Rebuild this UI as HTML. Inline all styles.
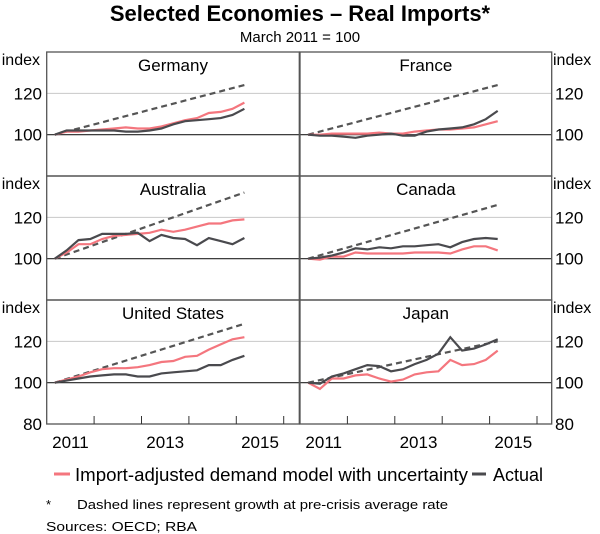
<!DOCTYPE html>
<html><head><meta charset="utf-8"><style>
body{margin:0;background:#fff;}
svg{display:block;font-family:"Liberation Sans",sans-serif;}
</style></head><body>
<svg id="c" width="600" height="534" viewBox="0 0 600 534">
<text x="300" y="21" text-anchor="middle" font-size="22" font-weight="bold" fill="#000">Selected Economies – Real Imports*</text>
<text x="300" y="42" text-anchor="middle" font-size="15" fill="#000">March 2011 = 100</text>
<g id="plots"></g>
<line x1="54" y1="474" x2="70" y2="474" stroke="#f4767e" stroke-width="3"/>
<text x="75" y="481" font-size="18" textLength="393" lengthAdjust="spacingAndGlyphs">Import-adjusted demand model with uncertainty</text>
<line x1="472" y1="474" x2="486" y2="474" stroke="#4a4a4e" stroke-width="3"/>
<text x="493" y="481" font-size="18" textLength="50" lengthAdjust="spacingAndGlyphs">Actual</text>
<text x="46" y="509" font-size="13">*</text>
<text x="77" y="509" font-size="13" textLength="371" lengthAdjust="spacingAndGlyphs">Dashed lines represent growth at pre-crisis average rate</text>
<text x="46" y="531" font-size="13" textLength="151" lengthAdjust="spacingAndGlyphs">Sources:  OECD; RBA</text>
</svg>
<script>
const countries = ["Germany","France","Australia","Canada","United States","Japan"];
const germanyModel = [100,101.5,101.5,102,102.5,103,103.5,103,103,104,105.5,107,108,110.5,111,112.5,115.5];
const germanyActual = [100,102,102,102,102,102,101.5,101.5,102,103,105,106.5,107,107.5,108,109.5,112.5];
const franceModel = [100,100,100.5,100.5,100.5,100.5,101,100.5,100.5,101.5,102,102.5,102.5,103,103.5,105,106.5];
const franceActual = [100,99.5,99.5,99,98.5,99.5,100,100.5,99.5,99.5,101.5,102.5,103,103.5,105,107.5,111.5];
const australiaModel = [100,103,107,107,109.5,111,111.5,112,112.5,114,113,114,115.5,117,117,118.5,119];
const australiaActual = [100,104,109,109.5,112,112,112,112.5,108.5,111.5,110,109.5,106.5,110,108.5,107,110];
const canadaModel = [100,99.5,101,101,103,102.5,102.5,102.5,102.5,103,103,103,102.5,104.5,106,106,104];
const canadaActual = [100,100.5,101.5,103,105,104.5,105.5,105,106,106,106.5,107,105.5,108,109.5,110,109.5];
const usModel = [100,101.5,103,105,106.5,107,107,107.5,108.5,110,110.5,112.5,113,116,118.5,121,122];
const usActual = [100,101,102,103,103.5,104,104,103,103,104.5,105,105.5,106,108.5,108.5,111,113];
const japanModel = [100,97,102,102,103.5,104,102,100.5,101.5,104,105,105.5,111,108.5,109,111,115.5];
const japanActual = [100,99.5,103,104.5,106.5,108.5,108,105.5,106.5,109,111,114,122,115.5,116.5,118.5,121];
const trendEnd = [124,124,132,126,128.5,120];
const yTicks = [80,100,120];
const xLabels = ["2011","2013","2015"];
const startYear = 2011.17, step = 0.25;

const models=[germanyModel,franceModel,australiaModel,canadaModel,usModel,japanModel];
const actuals=[germanyActual,franceActual,australiaActual,canadaActual,usActual,japanActual];
const NS="http://www.w3.org/2000/svg";
const g=document.getElementById('plots');
const rowTop=[52,176,300], rowH=124, pxU=rowH/60;
const colLeft=[46.7,300], colW=[252.6,251.7], pxY=47.4;
function mk(t,a){const e=document.createElementNS(NS,t);for(const k in a)e.setAttribute(k,a[k]);g.appendChild(e);return e;}
for(let i=0;i<6;i++){
  const r=Math.floor(i/2), c=i%2;
  const top=rowTop[r], L=colLeft[c];
  const y=v=>top+(140-v)*pxU;
  const x=t=>L+(t-2011)*pxY;
  const slug=countries[i].toLowerCase().replace(/ /g,'-');
  let e=mk('line',{x1:L,x2:L+colW[c],y1:y(120),y2:y(120),stroke:'#c8c8c8','stroke-width':1});
  
  
  e=mk('line',{x1:L,x2:L+colW[c],y1:y(100),y2:y(100),stroke:'#222','stroke-width':1.2});
  
  
  e=mk('text',{x:L+colW[c]/2,y:top+19,'text-anchor':'middle','font-size':17});
  e.textContent=countries[i];
  
  
  const n=models[i].length;
  const tEnd=startYear+(n-1)*step;
  e=mk('line',{x1:x(startYear),y1:y(100),x2:x(tEnd),y2:y(trendEnd[i]),stroke:'#555','stroke-width':2.2,'stroke-dasharray':'6,4'});
  
  
  const pts=a=>a.map((v,k)=>x(startYear+k*step).toFixed(1)+','+y(v).toFixed(1)).join(' ');
  e=mk('polyline',{points:pts(models[i]),fill:'none',stroke:'#f4767e','stroke-width':2.2});
  
  
  e=mk('polyline',{points:pts(actuals[i]),fill:'none',stroke:'#4a4a4e','stroke-width':2.2});
  
  
  e=mk('rect',{x:L,y:top,width:colW[c],height:rowH,fill:'none',stroke:'#555','stroke-width':1.3});
  
  
  if(r==2){
    for(let yr=2012;yr<=2016;yr++){
      e=mk('line',{x1:x(yr),x2:x(yr),y1:top+rowH,y2:top+rowH-8,stroke:'#333','stroke-width':1});
      
      
    }
    xLabels.forEach(lb=>{
      e=mk('text',{x:x(+lb+0.5),y:448,'text-anchor':'middle','font-size':17});
      e.textContent=lb;
      
      
    });
  }
}
for(let r=0;r<3;r++){
  const top=rowTop[r]; const y=v=>top+(140-v)*pxU;
  ['0','1'].forEach(s=>{
    let e=mk('text',{x:s==='0'?40:553,y:top+13,'text-anchor':s==='0'?'end':'start','font-size':16});
    e.textContent='index';
    
    
    yTicks.forEach(v=>{
      if(v===80&&r<2)return;
      e=mk('text',{x:s==='0'?42:555,y:y(v)+6,'text-anchor':s==='0'?'end':'start','font-size':17});
      e.textContent=String(v);
      
      
    });
  });
}
</script>
</body></html>
